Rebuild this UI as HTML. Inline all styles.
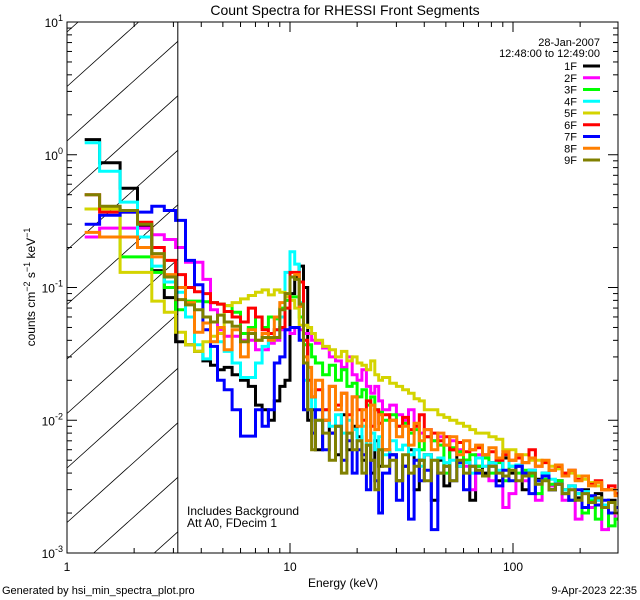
<!DOCTYPE html>
<html><head><meta charset="utf-8"><style>
html,body{margin:0;padding:0;background:#fff;overflow:hidden;width:640px;height:600px;}
svg{display:block;font-family:"Liberation Sans",sans-serif;overflow:hidden;}
</style></head><body>
<svg id="chart" width="640" height="600" viewBox="0 0 640 600" xmlns="http://www.w3.org/2000/svg">
<rect width="640" height="600" fill="#fff"/>
<defs><clipPath id="pc"><rect x="67" y="22" width="551" height="531"/></clipPath></defs>
<g id="hatch" clip-path="url(#pc)"></g>
<g id="series" clip-path="url(#pc)"></g>
<g id="axes"></g>
<text x="345" y="15" text-anchor="middle" font-size="14">Count Spectra for RHESSI Front Segments</text>
<text x="600" y="46" text-anchor="end" font-size="11">28-Jan-2007</text>
<text x="600" y="57" text-anchor="end" font-size="11">12:48:00 to 12:49:00</text>
<g id="legend"></g>
<text transform="translate(35,287) rotate(-90)" text-anchor="middle" font-size="12">counts cm<tspan dy="-5" font-size="9">−2</tspan><tspan dy="5"> s</tspan><tspan dy="-5" font-size="9">−1</tspan><tspan dy="5"> keV</tspan><tspan dy="-5" font-size="9">−1</tspan></text>
<text x="343" y="587" text-anchor="middle" font-size="12">Energy (keV)</text>
<text x="187" y="515" font-size="12">Includes Background</text>
<text x="187" y="527" font-size="12">Att A0, FDecim 1</text>
<text x="2" y="594" font-size="11">Generated by hsi_min_spectra_plot.pro</text>
<text x="637" y="594" text-anchor="end" font-size="11">9-Apr-2023 22:35</text>
</svg>
<script>
const edges=[1.2,1.4,1.73,2.07,2.4,2.73,3.07,3.4,3.73,4.07,4.4,4.73,5.07,5.5,6,6.5,7,7.5,8,8.5,9,9.5,10,10.5,11,11.5,12,12.5,13,14,15,16,17,18,19,20,21,22,23,24,25,26,28,30,32,34,36,38,40,43,46,49,52,56,60,64,68,73,78,84,90,96,103,110,118,126,135,145,155,166,178,190,204,218,234,250,268,287,300];
const seriesNames=["1F","2F","3F","4F","5F","6F","7F","8F","9F"];
const seriesColors=["#000000","#ff00ff","#00ff00","#00ffff","#d4d400","#ff0000","#0000ff","#ff7f00","#808000"];
const s1F=[1.3,0.87,0.56,0.29,0.134,0.084,0.039,0.037,0.033,0.028,0.026,0.024,0.025,0.022,0.02,0.018,0.013,0.012,0.01,0.014,0.018,0.02,0.09,0.12,0.145,0.1,
0.01,0.012,0.006,0.01,0.008,0.0055,0.011,0.006,0.009,0.0075,0.005,0.0065,0.004,0.007,0.0045,0.006,0.0055,0.0035,0.0045,0.006,0.003,0.005,0.0055,0.0025,0.005,0.0032,0.006,0.0045,0.005,0.0025,0.0045,0.004,0.0048,0.0035,0.0052,0.004,0.0045,0.003,0.0042,0.0036,0.004,0.003,0.0035,0.003,0.0032,0.0026,0.003,0.0025,0.0028,0.0022,0.0025,0.002];
const s2F=[0.24,0.28,0.28,0.28,0.25,0.23,0.2,0.155,0.155,0.115,0.068,0.048,0.043,0.043,0.04,0.04,0.034,0.034,0.038,0.04,0.048,0.048,0.045,0.05,0.048,0.045,
0.045,0.04,0.038,0.035,0.03,0.028,0.025,0.03,0.022,0.02,0.024,0.018,0.016,0.018,0.014,0.012,0.013,0.011,0.01,0.012,0.009,0.008,0.0085,0.007,0.0075,0.0065,0.007,0.006,0.0045,0.003,0.0055,0.0045,0.0035,0.005,0.0022,0.0028,0.0045,0.0035,0.0042,0.0025,0.0038,0.0032,0.0035,0.0025,0.003,0.0018,0.0028,0.0022,0.0025,0.0015,0.002,0.0018];
const s3F=[0.39,0.39,0.17,0.17,0.13,0.1,0.068,0.079,0.079,0.078,0.077,0.075,0.073,0.065,0.045,0.05,0.06,0.05,0.06,0.058,0.07,0.08,0.085,0.085,0.06,0.037,
0.037,0.03,0.027,0.022,0.026,0.02,0.024,0.018,0.019,0.015,0.017,0.013,0.015,0.012,0.0115,0.01,0.011,0.009,0.0095,0.008,0.0085,0.006,0.0075,0.007,0.0065,0.004,0.0062,0.0058,0.005,0.0055,0.0045,0.0052,0.004,0.0048,0.0035,0.0045,0.004,0.0042,0.0038,0.0028,0.0036,0.0033,0.0035,0.003,0.0025,0.0028,0.002,0.0025,0.0018,0.0022,0.0016,0.0018];
const s4F=[1.23,0.75,0.44,0.24,0.145,0.11,0.092,0.06,0.037,0.029,0.039,0.039,0.033,0.027,0.021,0.021,0.027,0.036,0.04,0.048,0.06,0.13,0.186,0.15,0.077,0.02,
0.012,0.015,0.01,0.012,0.009,0.011,0.008,0.01,0.0085,0.007,0.009,0.0065,0.008,0.006,0.0075,0.0055,0.007,0.006,0.0065,0.0055,0.006,0.0045,0.0055,0.005,0.0052,0.0048,0.005,0.0045,0.0048,0.004,0.0052,0.0045,0.0048,0.0042,0.0055,0.0045,0.0046,0.004,0.0042,0.0035,0.004,0.0036,0.0033,0.003,0.0032,0.0028,0.0029,0.0026,0.0025,0.0023,0.0024,0.0022];
const s5F=[0.39,0.39,0.13,0.13,0.079,0.065,0.046,0.037,0.033,0.039,0.043,0.045,0.073,0.077,0.082,0.087,0.092,0.096,0.088,0.096,0.092,0.085,0.08,0.07,0.052,0.052,
0.05,0.045,0.04,0.036,0.034,0.03,0.033,0.028,0.03,0.027,0.026,0.024,0.028,0.022,0.02,0.021,0.019,0.018,0.017,0.016,0.0145,0.014,0.012,0.012,0.011,0.0105,0.01,0.0095,0.009,0.0085,0.008,0.008,0.0075,0.0072,0.006,0.006,0.0055,0.0055,0.005,0.005,0.0048,0.0045,0.0043,0.004,0.004,0.0038,0.0036,0.0034,0.0032,0.003,0.003,0.0028];
const s6F=[0.5,0.37,0.37,0.31,0.2,0.16,0.125,0.1,0.093,0.09,0.077,0.075,0.066,0.06,0.055,0.07,0.06,0.048,0.045,0.048,0.05,0.07,0.13,0.13,0.11,0.04,
0.02,0.015,0.017,0.012,0.018,0.013,0.016,0.011,0.015,0.012,0.01,0.014,0.009,0.012,0.0095,0.011,0.01,0.009,0.0105,0.0085,0.009,0.011,0.0075,0.008,0.007,0.0075,0.006,0.0068,0.0058,0.006,0.0062,0.0055,0.0058,0.005,0.0055,0.005,0.0052,0.0048,0.006,0.0045,0.0048,0.0042,0.0045,0.004,0.0042,0.0036,0.0038,0.0033,0.0035,0.003,0.0032,0.0028];
const s7F=[0.30,0.35,0.37,0.37,0.41,0.38,0.32,0.16,0.105,0.048,0.036,0.02,0.017,0.012,0.0076,0.0076,0.012,0.009,0.012,0.027,0.03,0.048,0.05,0.05,0.04,0.012,
0.012,0.008,0.012,0.006,0.008,0.009,0.005,0.007,0.004,0.006,0.0055,0.003,0.005,0.0035,0.002,0.004,0.0055,0.0025,0.0045,0.0018,0.005,0.0035,0.0042,0.0015,0.004,0.0045,0.0035,0.0048,0.003,0.0045,0.004,0.0038,0.0045,0.0032,0.0042,0.0035,0.0045,0.004,0.0028,0.0035,0.0038,0.003,0.0033,0.0028,0.0025,0.003,0.0022,0.0027,0.0023,0.0025,0.002,0.0022];
const s8F=[0.26,0.24,0.24,0.2,0.17,0.125,0.1,0.077,0.046,0.054,0.039,0.05,0.034,0.048,0.03,0.048,0.04,0.045,0.04,0.06,0.077,0.09,0.12,0.125,0.072,0.03,
0.025,0.015,0.02,0.01,0.018,0.012,0.016,0.008,0.015,0.009,0.012,0.007,0.013,0.0085,0.011,0.006,0.01,0.0075,0.009,0.0065,0.0095,0.007,0.0085,0.006,0.008,0.0065,0.0075,0.0055,0.007,0.006,0.0065,0.0055,0.0062,0.0052,0.0058,0.005,0.0055,0.0048,0.0052,0.0045,0.005,0.0042,0.0046,0.0038,0.0042,0.0035,0.0038,0.0032,0.0034,0.003,0.003,0.0027];
const s9F=[0.5,0.41,0.38,0.3,0.18,0.12,0.081,0.074,0.068,0.06,0.055,0.062,0.055,0.051,0.039,0.045,0.04,0.042,0.042,0.042,0.068,0.09,0.12,0.115,0.075,0.027,
0.012,0.006,0.01,0.008,0.005,0.009,0.004,0.008,0.006,0.007,0.004,0.0065,0.005,0.003,0.006,0.0045,0.005,0.0035,0.0055,0.004,0.0045,0.005,0.0035,0.005,0.004,0.0045,0.0035,0.005,0.004,0.0045,0.0042,0.0038,0.0045,0.004,0.0038,0.0042,0.0035,0.0038,0.004,0.0033,0.0035,0.003,0.0033,0.0028,0.003,0.0025,0.0028,0.0024,0.0026,0.0022,0.0024,0.002];
const seriesValues=[s1F,s2F,s3F,s4F,s5F,s6F,s7F,s8F,s9F];
const yTickExps=[-3,-2,-1,0,1];
const xTickLabels=["1","10","100"];
const xTickVals=[1,10,100];

const NS="http://www.w3.org/2000/svg";
const L=67,R=618,T=22,B=553;
const XMAX=Math.pow(10,(R-L)/223);
function sx(e){return L+(R-L)*Math.log10(e)/Math.log10(XMAX);}
function sy(v){return Math.min(B,Math.max(T,B-(B-T)*(Math.log10(v)+3)/4));}
function mk(tag,attrs,parent){const el=document.createElementNS(NS,tag);for(const k in attrs)el.setAttribute(k,attrs[k]);parent.appendChild(el);return el;}

const hg=document.getElementById('hatch');
const hx=sx(3.14);
const slope=0.9;
for(let y0=T+10;y0<B+130;y0+=54.5){
  let x1=L,y1=y0;
  if(y1>B){x1=L+(y1-B)/slope;y1=B;}
  let x2=hx,y2=y0-(hx-L)*slope;
  if(y2<T){x2=L+(y0-T)/slope;y2=T;}
  if(x1>=hx)continue;
  const ln=mk('line',{x1:x1,y1:y1,x2:x2,y2:y2,stroke:'#000','stroke-width':0.8},hg);
  
  
}
const vl=mk('line',{x1:hx,y1:T,x2:hx,y2:B,stroke:'#000','stroke-width':1},document.getElementById('axes'));



const sg=document.getElementById('series');
seriesValues.forEach((vals,i)=>{
  const n=Math.min(vals.length,edges.length-1);
  let d='';
  for(let j=0;j<n;j++){
    const y=sy(vals[j]).toFixed(1);
    const x0=sx(edges[j]).toFixed(1),x1=Math.min(R,sx(edges[j+1])).toFixed(1);
    d+=(j===0?'M':'L')+x0+','+y+'L'+x1+','+y;
  }
  const p=mk('path',{d:d,fill:'none',stroke:seriesColors[i],'stroke-width':3,'stroke-linejoin':'miter'},sg);
  
  
});

const ag=document.getElementById('axes');
const box=mk('rect',{x:L,y:T,width:R-L,height:B-T,fill:'none',stroke:'#000','stroke-width':1},ag);


for(let e=-3;e<1;e++){
  for(let m=1;m<10;m++){
    const v=m*Math.pow(10,e);const y=sy(v);const len=m===1?10:5;
    mk('line',{x1:L,y1:y,x2:L+len,y2:y,stroke:'#000'},ag);
    mk('line',{x1:R,y1:y,x2:R-len,y2:y,stroke:'#000'},ag);
  }
}
yTickExps.forEach(e=>{
  const t=mk('text',{x:L-4,y:sy(Math.pow(10,e))+5,'text-anchor':'end','font-size':12},ag);
  
  
  t.innerHTML='10<tspan dy="-6" font-size="9">'+e+'</tspan>';
});
for(let e=0;e<3;e++){
  for(let m=1;m<10;m++){
    const v=m*Math.pow(10,e);if(v>XMAX)break;const x=sx(v);const len=m===1?10:5;
    mk('line',{x1:x,y1:B,x2:x,y2:B-len,stroke:'#000'},ag);
    mk('line',{x1:x,y1:T,x2:x,y2:T+len,stroke:'#000'},ag);
  }
}
xTickVals.forEach((v,i)=>{
  const t=mk('text',{x:sx(v),y:B+18,'text-anchor':'middle','font-size':12},ag);
  
  
  t.textContent=xTickLabels[i];
});

const lg=document.getElementById('legend');
seriesNames.forEach((nm,i)=>{
  const y=66+i*11.75;
  const t=mk('text',{x:577,y:y+4,'text-anchor':'end','font-size':11},lg);
  
  
  t.textContent=nm;
  const l=mk('line',{x1:583,y1:y,x2:600,y2:y,stroke:seriesColors[i],'stroke-width':3},lg);
  
  
});
</script>
</body></html>
